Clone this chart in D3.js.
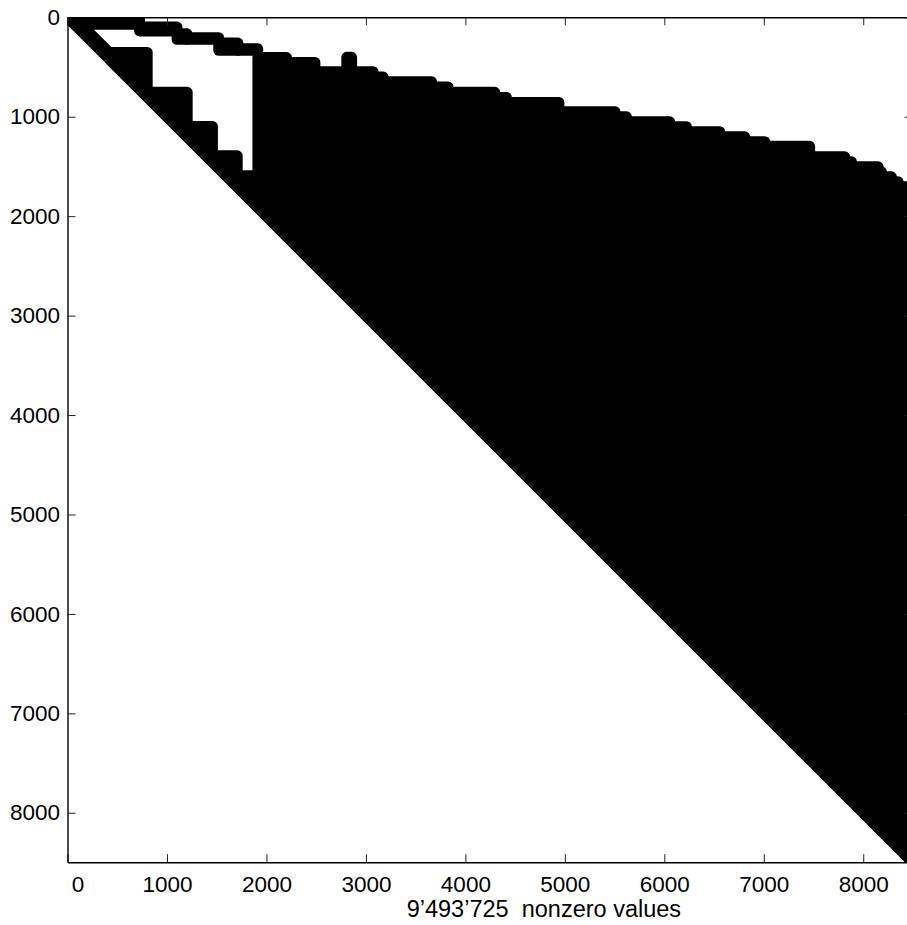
<!DOCTYPE html>
<html>
<head>
<meta charset="utf-8">
<script src="https://cdn.jsdelivr.net/npm/d3@7"></script>
<style>
  body { margin: 0; background: #fff; }
  svg text { font-family: "Liberation Sans", Arial, Helvetica, sans-serif; fill: #000; }
</style>
</head>
<body>
<svg id="chart" width="907" height="925"></svg>
<script>
// ---- data: sparsity pattern of an upper-triangular 8496 x 8496 matrix ----
const matrixSize = 8496;
const nonzeroLabel = "9\u2019493\u2019725  nonzero values";
const tickValues = [0, 1000, 2000, 3000, 4000, 5000, 6000, 7000, 8000];

// thin band of nonzeros just above the diagonal (columns minus rows)
const diagonalBandWidth = 65;

// top band of nonzero rows for the first columns
const bandColStart  = [0, 724, 1101, 1202, 1520, 1714];
const bandColEnd    = [724, 1101, 1202, 1520, 1714, 1913];
const bandRowTop    = [0, 97, 165, 205, 258, 316];
const bandRowBottom = [70, 138, 223, 223, 332, 332];

// inner staircase blocks (from first row down to the diagonal)
const innerColStart = [430, 802, 1204, 1458, 1707];
const innerColEnd   = [802, 1204, 1458, 1707, 1913];
const innerRowTop   = [352, 754, 1096, 1392, 1593];

// skyline of the dense block: first nonzero row from each column on
const skylineColStart = [1913, 2203, 2488, 2807, 2857, 3073, 3174, 3661, 3827, 4296,
                         4413, 4941, 5504, 5620, 6055, 6223, 6558, 6809, 7010, 7462,
                         7814, 7882, 8150, 8183, 8284, 8351, 8455];
const skylineRowTop   = [404, 453, 547, 402, 547, 600, 648, 701, 754, 805,
                         855, 949, 1000, 1050, 1100, 1150, 1201, 1251, 1297, 1402,
                         1452, 1503, 1553, 1603, 1653, 1704, 1760];

// ---- drawing ----
const svg = d3.select("#chart");
const x = d3.scaleLinear().domain([0, matrixSize + 1]).range([67.5, 912.7]);
const y = d3.scaleLinear().domain([0, matrixSize + 1]).range([17.3, 862.2]);
const markerRadius = 5.4;

svg.append("defs").append("clipPath").attr("id", "plotClip")
  .append("rect")
  .attr("x", x(0)).attr("y", y(0))
  .attr("width", x(matrixSize + 1) - x(0))
  .attr("height", y(matrixSize + 1) - y(0));

// polygon of {(c, r): c0<=c<=c1, r0<=r<=min(r1,c)} in matrix coordinates
function blockPoly(c0, c1, r0, r1) {
  const a = Math.max(c0, r0);
  if (c1 <= a) return null;
  const pts = [[a, r0], [c1, r0], [c1, Math.min(r1, c1)]];
  if (r1 < c1) pts.push([Math.max(a, r1), r1]);
  if (a < r1) pts.push([a, a]);
  return pts;
}

const blocks = [];
blocks.push([[0, 0], [matrixSize, matrixSize], [matrixSize, matrixSize - diagonalBandWidth], [diagonalBandWidth, 0]]);
bandColStart.forEach((c0, i) => blocks.push(blockPoly(c0, bandColEnd[i], bandRowTop[i], bandRowBottom[i])));
innerColStart.forEach((c0, i) => blocks.push(blockPoly(c0, innerColEnd[i], innerRowTop[i], Infinity)));
skylineColStart.forEach((c0, i) => {
  const c1 = i + 1 < skylineColStart.length ? skylineColStart[i + 1] : matrixSize;
  blocks.push(blockPoly(c0, c1, skylineRowTop[i], Infinity));
});

const line = d3.line().x(d => x(d[0])).y(d => y(d[1]));
svg.append("g").attr("clip-path", "url(#plotClip)")
  .selectAll("path")
  .data(blocks.filter(b => b))
  .join("path")
  .attr("d", d => line(d) + "Z")
  .attr("fill", "#000")
  .attr("stroke", "#000")
  .attr("stroke-width", markerRadius * 2)
  .attr("stroke-linejoin", "round");

// ---- axes (ticks inward, box) ----
const fontSize = 22.5;
const gx = svg.append("g").attr("transform", `translate(0,${y(matrixSize + 1)})`)
  .call(d3.axisBottom(x).tickValues(tickValues).tickFormat(d3.format("d"))
        .tickSizeInner(-8).tickSizeOuter(0).tickPadding(13.5));
gx.selectAll("text").attr("font-size", fontSize);
gx.selectAll(".tick").filter(d => d === 0).select("text").attr("x", 10);

const gy = svg.append("g").attr("transform", `translate(${x(0)},0)`)
  .call(d3.axisLeft(y).tickValues(tickValues).tickFormat(d3.format("d"))
        .tickSizeInner(-8).tickSizeOuter(0).tickPadding(7.5));
gy.selectAll("text").attr("font-size", fontSize);

const gt = svg.append("g").attr("transform", `translate(0,${y(0)})`)
  .call(d3.axisTop(x).tickValues(tickValues).tickFormat("").tickSizeInner(-8).tickSizeOuter(0));
const gr = svg.append("g").attr("transform", `translate(${x(matrixSize + 1)},0)`)
  .call(d3.axisRight(y).tickValues(tickValues).tickFormat("").tickSizeInner(-8).tickSizeOuter(0));

[gx, gy, gt, gr].forEach(g => {
  g.attr("font-family", null);
  g.select(".domain").attr("stroke", "#000").attr("stroke-width", 1.4);
  g.selectAll(".tick line").attr("stroke", "#222").attr("stroke-width", 1);
});

svg.append("text")
  .attr("x", 406.7).attr("y", 916.7)
  .attr("font-size", 23.5)
  .style("white-space", "pre")
  .attr("xml:space", "preserve")
  .text(nonzeroLabel);
</script>
</body>
</html>
